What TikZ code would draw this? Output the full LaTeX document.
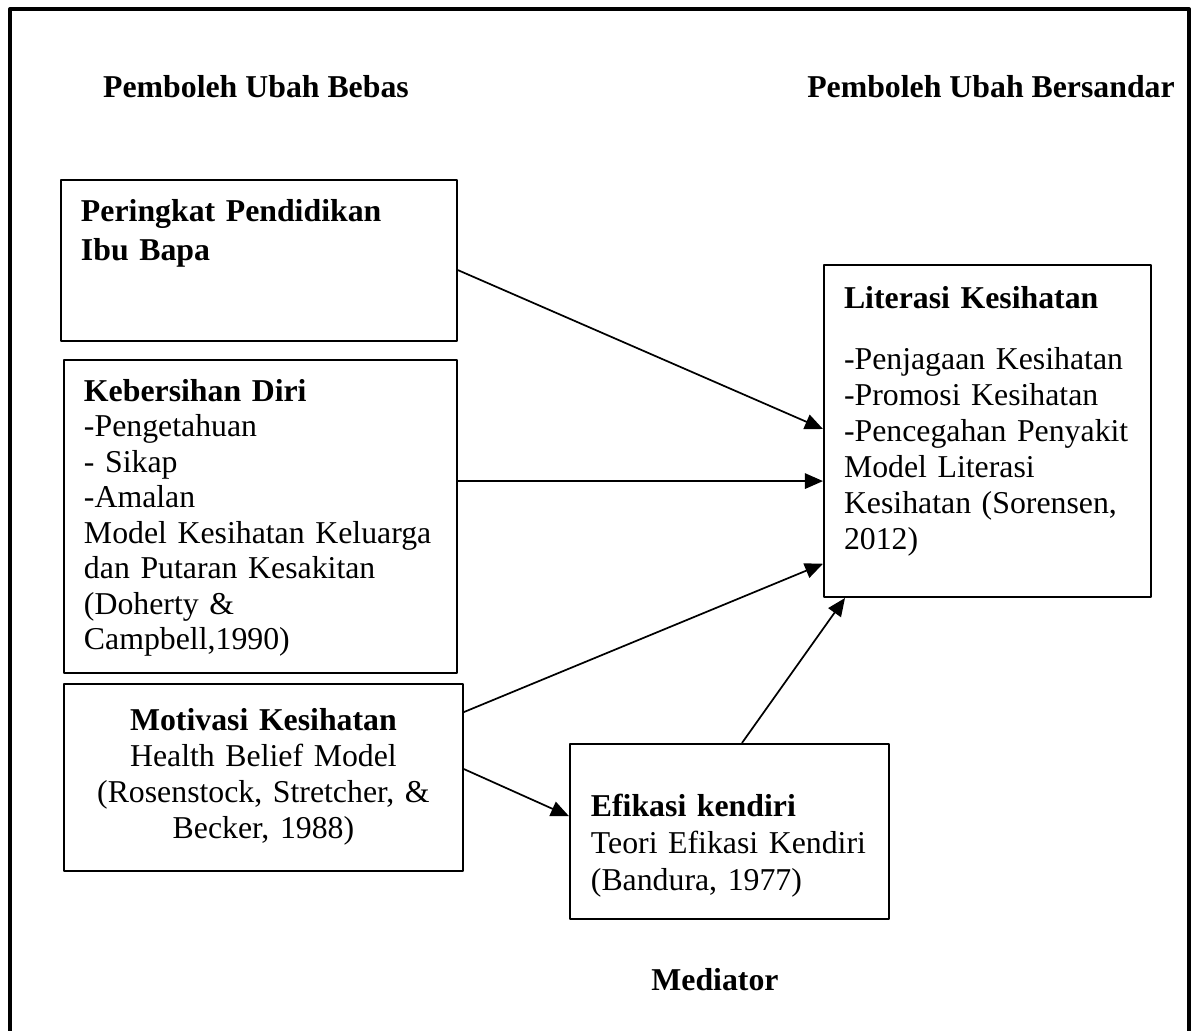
\documentclass[tikz,border=0pt]{standalone}
\usepackage{fontspec}
\setmainfont{Liberation Serif}
\usetikzlibrary{arrows.meta,calc}

\begin{document}
\begin{tikzpicture}[x=0.3774pt,y=-0.3774pt,line join=round,>={Triangle[length=6.8pt,width=5.8pt]}]
        \tikzset{box/.style={draw,line width=0.75pt,anchor=north west,inner ysep=0pt,inner xsep=7.55pt,align=left,font=\fontsize{12}{13.4}\selectfont},
                 head/.style={anchor=base,font=\fontsize{12}{13.7}\selectfont\bfseries},
                 link/.style={->,line width=0.65pt}}
        \useasboundingbox (0,0) rectangle (1194,1031);
        \draw[line width=1.5pt] (10,1045)--(10,9)--(1189,9)--(1189,1045);
        % headings
        \node[head] (bebas) at (256,98) {Pemboleh Ubah Bebas};
        \node[head] (bersandar) at (991,98) {Pemboleh Ubah Bersandar};
        \node[head] (mediator) at (715,990) {Mediator};
        % boxes
        \node[box,text width=134.3pt,text height=15.5pt,text depth=45.3pt,font=\fontsize{12}{15}\selectfont] (peringkat) at (60,179)
            {\textbf{Peringkat Pendidikan}\\\textbf{Ibu Bapa}};
        \node[box,text width=133.2pt,text height=15.5pt,text depth=102.7pt] (kebersihan) at (63,359)
            {\textbf{Kebersihan Diri}\\-Pengetahuan\\- Sikap\\-Amalan\\Model Kesihatan Keluarga\\dan Putaran Kesakitan\\(Doherty \&\\Campbell,1990)};
        \node[box,align=center,inner xsep=3.77pt,text width=143pt,text height=17.4pt,text depth=53.2pt,font=\fontsize{12}{13.6}\selectfont] (motivasi) at (63,683)
            {\textbf{Motivasi Kesihatan}\\Health Belief Model\\(Rosenstock, Stretcher, \&\\Becker, 1988)};
        \node[box,inner xsep=7.9pt,text width=104.6pt,text height=27.2pt,text depth=38.9pt,font=\fontsize{12}{14}\selectfont] (efikasi) at (569,743)
            {\textbf{Efikasi kendiri}\\Teori Efikasi Kendiri\\(Bandura, 1977)};
        \node[box,text width=108.3pt,text height=16.6pt,text depth=108.7pt,font=\fontsize{12}{13.6}\selectfont] (literasi) at (823,264)
            {\textbf{Literasi Kesihatan}\\[9.1pt]-Penjagaan Kesihatan\\-Promosi Kesihatan\\-Pencegahan Penyakit\\Model Literasi\\Kesihatan (Sorensen,\\2012)};
        % arrows
        \draw[link] ([yshift=-3.6pt]peringkat.east) -- ([yshift=0.75pt]literasi.west);
        \draw[link] ([yshift=13.4pt]kebersihan.east) -- ([yshift=-18.9pt]literasi.west);
        \draw[link] ([yshift=24.7pt]motivasi.east) -- ([yshift=-50.1pt]literasi.west);
        \draw[link] ([yshift=3.2pt]motivasi.east) -- ([yshift=5.8pt]efikasi.west);
        \draw[link] ([xshift=4.7pt]efikasi.north) -- ([xshift=8.3pt]literasi.south west);
\end{tikzpicture}
\end{document}
